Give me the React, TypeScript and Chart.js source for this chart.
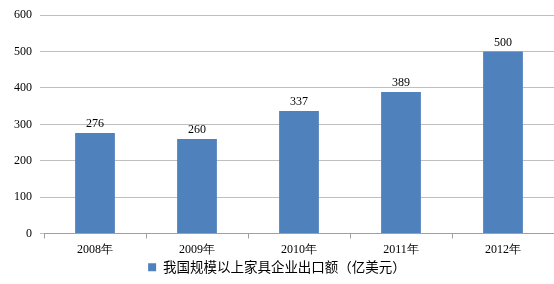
import React, { useEffect, useRef } from "react";
import { Chart, registerables } from "chart.js";

Chart.register(...registerables);

const categories = ["2008年", "2009年", "2010年", "2011年", "2012年"];
const exportValues = [276, 260, 337, 389, 500];
const yTicks = [0, 100, 200, 300, 400, 500, 600];
const seriesName = "我国规模以上家具企业出口额（亿美元）";

const SERIF = "'Liberation Serif', 'Times New Roman', serif";
const CJK = "'Noto Sans CJK SC', 'Noto Sans', sans-serif";

const valueLabels = {
  id: "valueLabels",
  afterDatasetsDraw(chart: any) {
    const ctx = chart.ctx;
    const meta = chart.getDatasetMeta(0);
    ctx.save();
    ctx.font = `12px ${SERIF}`;
    ctx.fillStyle = "#000";
    ctx.textAlign = "center";
    ctx.textBaseline = "bottom";
    meta.data.forEach((bar: any, i: number) => {
      ctx.fillText(String(exportValues[i]), bar.x, bar.y - 3);
    });
    ctx.restore();
  },
};

export default function App() {
  const ref = useRef<HTMLCanvasElement>(null);
  useEffect(() => {
    if (!ref.current) return;
    const chart = new Chart(ref.current, {
      type: "bar",
      data: {
        labels: categories,
        datasets: [
          {
            label: seriesName,
            data: exportValues,
            backgroundColor: "#4F81BD",
            borderWidth: 0,
            categoryPercentage: 1,
            barPercentage: 0.39,
          },
        ],
      },
      options: {
        animation: false,
        responsive: false,
        maintainAspectRatio: false,
        layout: { padding: { top: 8, right: 0, left: 0, bottom: 0 } },
        plugins: {
          tooltip: { enabled: false },
          legend: {
            position: "bottom",
            labels: {
              boxWidth: 8,
              boxHeight: 8,
              padding: 3,
              color: "#000",
              font: { family: CJK, size: 13.5 },
            },
          },
        },
        scales: {
          x: {
            offset: true,
            afterFit: (scale: any) => {
              scale.height = 24;
            },
            grid: {
              drawOnChartArea: false,
              drawTicks: true,
              tickLength: 5,
              color: "#A0A0A0",
              offset: true,
            },
            border: { display: true, color: "#A0A0A0" },
            ticks: {
              color: "#000",
              font: { family: SERIF, size: 12 },
              padding: 4,
              maxRotation: 0,
            },
          },
          y: {
            min: 0,
            max: 600,
            afterBuildTicks: (scale: any) => {
              scale.ticks = yTicks.map((v) => ({ value: v }));
            },
            afterFit: (scale: any) => {
              scale.width = 44;
            },
            grid: {
              color: "#BFBFBF",
              drawTicks: true,
              tickLength: 4,
            },
            border: { display: false },
            ticks: {
              color: "#000",
              font: { family: SERIF, size: 12 },
              padding: 8,
            },
          },
        },
      },
      plugins: [valueLabels],
    });
    return () => chart.destroy();
  }, []);
  return (
    <div style={{ position: "absolute", left: 0, top: 0, width: 554, height: 284 }}>
      <canvas ref={ref} width={554} height={284} style={{ width: 554, height: 284 }} />
    </div>
  );
}
